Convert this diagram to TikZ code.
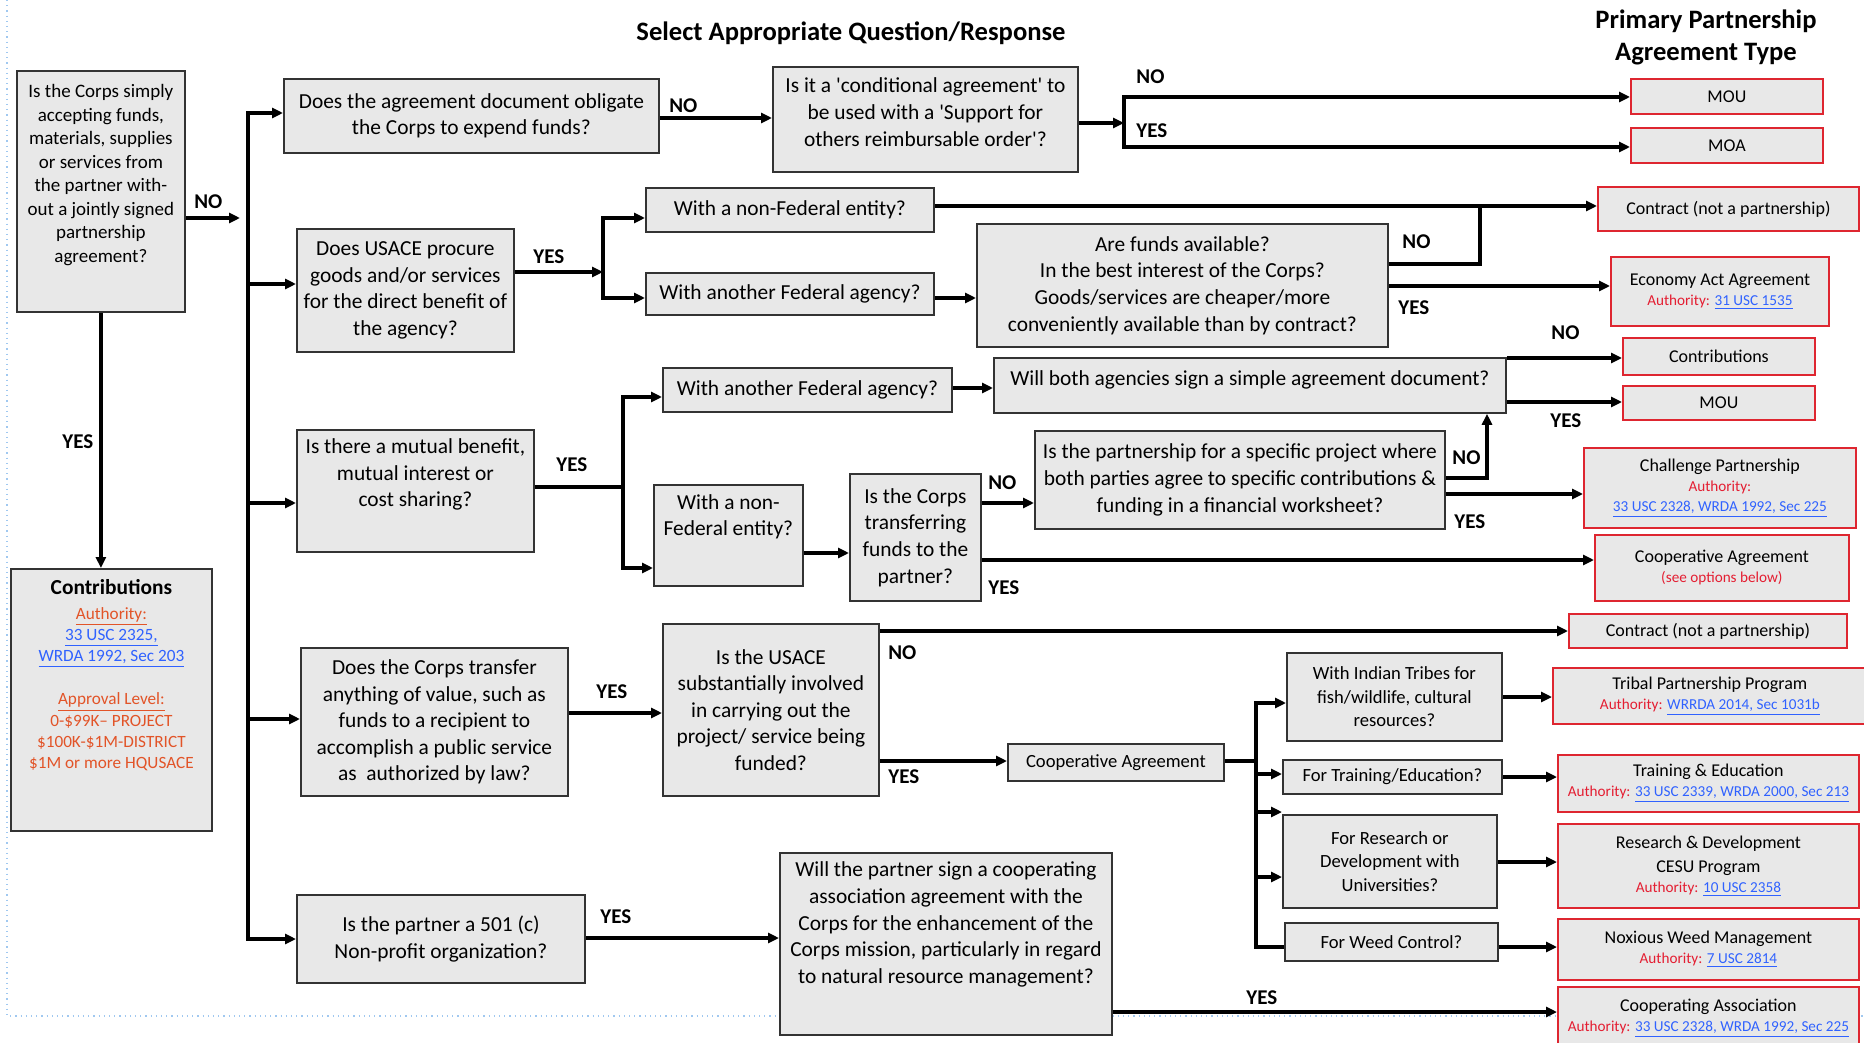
\documentclass[tikz,border=0pt]{standalone}
\usepackage{fontspec}
\setmainfont{Carlito}
\usetikzlibrary{positioning,arrows.meta}

\definecolor{boxgray}{RGB}{232,232,232}
\definecolor{boxred}{RGB}{222,38,48}
\definecolor{authred}{RGB}{228,30,50}
\definecolor{linkblue}{RGB}{48,98,255}
\definecolor{apporange}{RGB}{226,84,40}
\definecolor{pageblue}{RGB}{160,200,240}

\newcommand{\lnk}[1]{\textcolor{linkblue}{\underline{#1}}}
\newcommand{\auth}{\textcolor{authred}{Authority:}}
\newcommand{\authsize}{\fontsize{7.6}{9}\selectfont}

\tikzset{sz/.style 2 args={minimum width=#1*0.5pt, minimum height=#2*0.5pt}}

\begin{document}
\begin{tikzpicture}[x=0.5pt, y=-0.5pt,
    qbox/.style={rectangle, draw=black!80, fill=boxgray, line width=0.9pt, inner sep=0pt, align=center, anchor=north west, font=\fontsize{10.7}{13.3}\selectfont},
    rbox/.style={qbox, draw=boxred, font=\fontsize{9}{10}\selectfont},
    subq/.style={font=\fontsize{9.3}{11.75}\selectfont},
    arr/.style={-{Triangle[length=5.5pt,width=5pt]}, line width=1.6pt},
    ln/.style={line width=1.6pt},
    yn/.style={anchor=west, inner sep=0pt, font=\bfseries\fontsize{10.5}{12}\selectfont},
    ttl/.style={align=center, inner sep=0pt, font=\bfseries\fontsize{13.3}{16}\selectfont},
    ]
    \useasboundingbox (0,0) rectangle (1864,1043);
    \fill[white] (0,0) rectangle (1864,1043);
    \draw[pageblue, dotted, line width=0.6pt] (7,0) -- (7,1016) -- (1864,1016);

    %Titles
    \node[ttl] (ttlq) at (851,33) {Select Appropriate Question/Response};
    \node[ttl] (ttlt) at (1706,37) {Primary Partnership\\Agreement Type};

    %Questions
    \node[qbox, sz={168}{241}, font=\fontsize{9.5}{11.75}\selectfont] (corps) at (16,70) {Is the Corps simply\\accepting funds,\\materials, supplies\\or services from\\the partner with-\\out a jointly signed\\partnership\\agreement?\\[6pt]\mbox{}};
    \node[qbox, sz={375}{74}] (oblig) at (283,78) {Does the agreement document obligate\\the Corps to expend funds?};
    \node[qbox, sz={305}{105}] (cond) at (772,66) {Is it a \textquotesingle conditional agreement\textquotesingle{} to\\be used with a \textquotesingle Support for\\others reimbursable order\textquotesingle?\\[-6pt]\mbox{}};
    \node[qbox, sz={217}{123}] (procure) at (296,228) {Does USACE procure\\goods and/or services\\for the direct benefit of\\the agency?};
    \node[qbox, sz={288}{44}] (nonfed) at (645,187) {With a non-Federal entity?};
    \node[qbox, sz={288}{42}] (fedag) at (645,272) {With another Federal agency?};
    \node[qbox, sz={411}{123}] (funds) at (976,223) {Are funds available?\\In the best interest of the Corps?\\Goods/services are cheaper/more\\conveniently available than by contract?};
    \node[qbox, sz={237}{122}] (mutual) at (296,429) {Is there a mutual benefit,\\mutual interest or\\cost sharing?\\[5pt]\mbox{}};
    \node[qbox, sz={289}{44}] (fedag2) at (662,367) {With another Federal agency?};
    \node[qbox, sz={512}{55}] (simple) at (993,357) {Will both agencies sign a simple agreement document?\\[-6pt]\mbox{}};
    \node[qbox, sz={149}{101}] (nonfed2) at (653,484) {With a non-\\Federal entity?\\[7pt]\mbox{}};
    \node[qbox, sz={131}{127}] (transfer) at (849,473) {Is the Corps\\transferring\\funds to the\\partner?};
    \node[qbox, sz={410}{98}] (project) at (1034,430) {Is the partnership for a specific project where\\both parties agree to specific contributions \&\\funding in a financial worksheet?};
    \node[qbox, sz={267}{148}] (value) at (300,647) {Does the Corps transfer\\anything of value, such as\\funds to a recipient to\\accomplish a public service\\as\ \ authorized by law?};
    \node[qbox, sz={216}{172}] (usace) at (662,623) {Is the USACE\\substantially involved\\in carrying out the\\project/ service being\\funded?};
    \node[qbox, sz={216}{37}, subq] (coop) at (1007,743) {Cooperative Agreement};
    \node[qbox, sz={215}{88}, subq] (tribes) at (1286,652) {With Indian Tribes for\\fish/wildlife, cultural\\resources?};
    \node[qbox, sz={219}{34}, subq] (training) at (1282,759) {For Training/Education?};
    \node[qbox, sz={214}{93}, subq] (research) at (1282,814) {For Research or\\Development with\\Universities?};
    \node[qbox, sz={213}{38}, subq] (weed) at (1284,922) {For Weed Control?};
    \node[qbox, sz={288}{88}] (nonprofit) at (296,894) {Is the partner a 501 (c)\\Non-profit organization?};
    \node[qbox, sz={332}{182}] (assoc) at (779,852) {Will the partner sign a cooperating\\association agreement with the\\Corps for the enhancement of the\\Corps mission, particularly in regard\\to natural resource management?\\[8pt]\mbox{}};
    \node[qbox, sz={201}{262}, font=\fontsize{8.6}{10.7}\selectfont] (contrib) at (10,568) {{\bfseries\fontsize{10.7}{13}\selectfont Contributions}\\[1.5pt]
        \textcolor{apporange}{\underline{Authority:}}\\
        \lnk{33 USC 2325,}\\
        \lnk{WRDA 1992, Sec 203}\\[10.7pt]
        \textcolor{apporange}{\underline{Approval Level:}}\\
        \textcolor{apporange}{0-\$99K– PROJECT}\\
        \textcolor{apporange}{\$100K-\$1M-DISTRICT}\\
        \textcolor{apporange}{\$1M or more HQUSACE}\\[15pt]\mbox{}};

    %Agreement types
    \node[rbox, sz={192}{35}] (mou) at (1630,78) {MOU};
    \node[rbox, sz={192}{35}] (moa) at (1630,127) {MOA};
    \node[rbox, sz={261}{44}] (contract) at (1597,186) {Contract (not a partnership)};
    \node[rbox, sz={218}{69}] (econ) at (1610,256) {Economy Act Agreement\\{\authsize\auth{} \lnk{31 USC 1535}}};
    \node[rbox, sz={192}{37}] (contrib2) at (1622,337) {Contributions};
    \node[rbox, sz={192}{34}] (mou2) at (1622,385) {MOU};
    \node[rbox, sz={272}{80}] (challenge) at (1583,447) {Challenge Partnership\\{\authsize\auth}\\{\authsize\lnk{33 USC 2328, WRDA 1992, Sec 225}}};
    \node[rbox, sz={254}{66}] (coopagr) at (1594,534) {Cooperative Agreement\\{\authsize\textcolor{authred}{(see options below)}}};
    \node[rbox, sz={278}{34}] (contract2) at (1568,613) {Contract (not a partnership)};
    \node[rbox, sz={314}{56}] (tribal) at (1552,667) {Tribal Partnership Program\\{\authsize\auth{} \lnk{WRRDA 2014, Sec 1031b}}};
    \node[rbox, sz={301}{57}] (traineduc) at (1557,754) {Training \& Education\\{\authsize\auth{} \lnk{33 USC 2339, WRDA 2000, Sec 213}}};
    \node[rbox, sz={301}{84}] (cesu) at (1557,823) {Research \& Development\\[2pt]CESU Program\\{\authsize\auth{} \lnk{10 USC 2358}}};
    \node[rbox, sz={301}{61}] (noxious) at (1557,918) {Noxious Weed Management\\{\authsize\auth{} \lnk{7 USC 2814}}};
    \node[rbox, sz={301}{62}] (coopassoc) at (1557,986) {Cooperating Association\\{\authsize\auth{} \lnk{33 USC 2328, WRDA 1992, Sec 225}}};

    %Lines
    \coordinate (busA) at (248,113);
    \coordinate (busB) at (248,939);
    \coordinate (corpsno) at (240,218);
    \draw[arr] (corps.east|-corpsno) -- (corpsno);
    \draw[arr] (busB) -- (busA) -- (oblig.west|-busA);
    \draw[arr] (busA|-0,284) -- (procure.west|-0,284);
    \draw[arr] (busA|-0,503) -- (mutual.west|-0,503);
    \draw[arr] (busA|-0,719) -- (value.west|-0,719);
    \draw[arr] (busA) -- (busB) -- (nonprofit.west|-busB);
    \draw[arr] (corps.south) -- (contrib.north-|corps.south);

    \coordinate (condA) at (1124,97);
    \coordinate (condB) at (1124,147);
    \draw[arr] (oblig.east|-0,118) -- (cond.west|-0,118);
    \draw[arr] (cond.east|-0,123) -- (condA|-0,123);
    \draw[arr] (condB) -- (condA) -- (mou.west|-condA);
    \draw[arr] (condA) -- (condB) -- (moa.west|-condB);

    \coordinate (procA) at (603,218);
    \coordinate (procB) at (603,298);
    \draw[arr] (procure.east|-0,272) -- (procA|-0,272);
    \draw[arr] (procB) -- (procA) -- (nonfed.west|-procA);
    \draw[arr] (procA) -- (procB) -- (fedag.west|-procB);
    \draw[arr] (nonfed.east|-0,206) -- (contract.west|-0,206);
    \draw[arr] (fedag.east|-0,298) -- (funds.west|-0,298);
    \coordinate (fundsno) at (1480,264);
    \draw[ln] (funds.east|-fundsno) -- (fundsno) -- (fundsno|-0,206);
    \draw[arr] (funds.east|-0,286) -- (econ.west|-0,286);

    \coordinate (mutA) at (623,397);
    \coordinate (mutB) at (623,568);
    \draw[ln] (mutual.east|-0,487) -- (mutA|-0,487);
    \draw[arr] (mutB) -- (mutA) -- (fedag2.west|-mutA);
    \draw[arr] (mutA) -- (mutB) -- (nonfed2.west|-mutB);
    \draw[arr] (fedag2.east|-0,388) -- (simple.west|-0,388);
    \draw[arr] (simple.east|-0,358) -- (contrib2.west|-0,358);
    \draw[arr] (simple.east|-0,402) -- (mou2.west|-0,402);
    \draw[arr] (nonfed2.east|-0,553) -- (transfer.west|-0,553);
    \draw[arr] (transfer.east|-0,503) -- (project.west|-0,503);
    \draw[arr] (transfer.east|-0,560) -- (coopagr.west|-0,560);
    \coordinate (projno) at (1487,478);
    \draw[arr] (project.east|-projno) -- (projno) -- (simple.south-|projno);
    \draw[arr] (project.east|-0,494) -- (challenge.west|-0,494);

    \draw[arr] (value.east|-0,713) -- (usace.west|-0,713);
    \draw[arr] (usace.east|-0,631) -- (contract2.west|-0,631);
    \draw[arr] (usace.east|-0,761) -- (coop.west|-0,761);
    \coordinate (coopA) at (1256,703);
    \coordinate (coopB) at (1256,947);
    \draw[ln] (coop.east|-0,761) -- (coopA|-0,761);
    \draw[arr] (coopB) -- (coopA) -- (tribes.west|-coopA);
    \draw[arr] (coopA|-0,774) -- (training.west|-0,774);
    \draw[arr] (coopA|-0,812) -- (research.west|-0,812);
    \draw[arr] (coopA|-0,877) -- (research.west|-0,877);
    \draw[ln] (coopA) -- (coopB) -- (weed.west|-coopB);
    \draw[arr] (tribes.east|-0,697) -- (tribal.west|-0,697);
    \draw[arr] (training.east|-0,777) -- (traineduc.west|-0,777);
    \draw[arr] (research.east|-0,862) -- (cesu.west|-0,862);
    \draw[arr] (weed.east|-0,947) -- (noxious.west|-0,947);
    \draw[arr] (nonprofit.east|-0,938) -- (assoc.west|-0,938);
    \draw[arr] (assoc.east|-0,1012) -- (coopassoc.west|-0,1012);

    %Answers
    \node[yn] (nocorps) at (194,202) {NO};
    \node[yn] (yescorps) at (62,442) {YES};
    \node[yn] (nooblig) at (669,106) {NO};
    \node[yn] (nocond) at (1136,77) {NO};
    \node[yn] (yescond) at (1136,131) {YES};
    \node[yn] (yesproc) at (533,257) {YES};
    \node[yn] (nofunds) at (1402,242) {NO};
    \node[yn] (yesfunds) at (1398,308) {YES};
    \node[yn] (yesmut) at (556,465) {YES};
    \node[yn] (nosimple) at (1551,333) {NO};
    \node[yn] (yessimple) at (1550,421) {YES};
    \node[yn] (notrans) at (988,483) {NO};
    \node[yn] (yestrans) at (988,588) {YES};
    \node[yn] (noproj) at (1452,458) {NO};
    \node[yn] (yesproj) at (1454,522) {YES};
    \node[yn] (yesvalue) at (596,692) {YES};
    \node[yn] (nousace) at (888,653) {NO};
    \node[yn] (yesusace) at (888,777) {YES};
    \node[yn] (yesnonprof) at (600,917) {YES};
    \node[yn] (yesassoc) at (1246,998) {YES};
\end{tikzpicture}
\end{document}
